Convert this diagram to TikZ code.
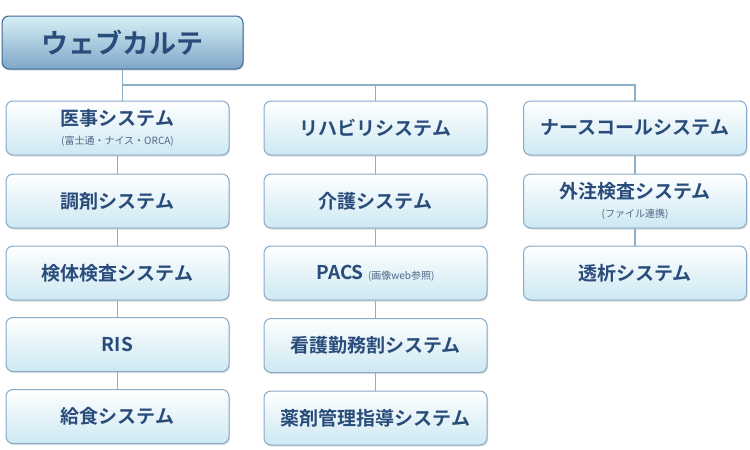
\documentclass[tikz,border=0pt]{standalone}
\usepackage{fontspec}
\setmainfont{Noto Sans CJK JP}[BoldFont={Noto Sans CJK JP Bold}]
\usetikzlibrary{shadows}
\definecolor{txt}{HTML}{294C7A}
\definecolor{subtxt}{HTML}{4F6688}
\definecolor{boxborder}{HTML}{86AAC8}
\definecolor{boxbottom}{HTML}{CDE8F2}
\definecolor{linec}{HTML}{8CAFC8}
\definecolor{roottop}{HTML}{D7F0F5}
\definecolor{rootbottom}{HTML}{7FA6C8}
\definecolor{rootborder}{HTML}{3C6496}
\newcommand{\subtext}[1]{{\fontsize{10pt}{12pt}\selectfont\color{subtxt}\mdseries #1}}
\tikzset{
  sysbox/.style={draw=boxborder, line width=1pt, rounded corners=7pt,
    minimum width=223pt, minimum height=54pt, inner sep=0pt,
    top color=white, bottom color=boxbottom, text=txt, align=center,
    font=\fontsize{19pt}{22pt}\selectfont\bfseries,
    drop shadow={opacity=0.25, shadow xshift=1pt, shadow yshift=-1.5pt}},
  rootbox/.style={draw=rootborder, line width=1pt, rounded corners=7pt,
    minimum width=241pt, minimum height=53pt, inner sep=0pt,
    top color=roottop, bottom color=rootbottom, text=txt,
    font=\fontsize{27pt}{30pt}\selectfont\bfseries,
    drop shadow={opacity=0.25, shadow xshift=1pt, shadow yshift=-1.5pt}},
  conn/.style={draw=linec, line width=1.1pt}
}
\begin{document}
\begin{tikzpicture}[x=1pt,y=-1pt]
\useasboundingbox (0,0) rectangle (750,450);
\node[rootbox] (root) at (122.5,42.5) {ウェブカルテ};
% column 1
\node[sysbox] (a1) at (117.5,128) {医事システム\\[-2.5pt]\subtext{(富士通・ナイス・ORCA)}};
\node[sysbox] (a2) at (117.5,201) {調剤システム};
\node[sysbox] (a3) at (117.5,273) {検体検査システム};
\node[sysbox] (a4) at (117.5,344.5) {RIS};
\node[sysbox] (a5) at (117.5,416.5) {給食システム};
% column 2
\node[sysbox] (b1) at (375.5,128) {リハビリシステム};
\node[sysbox] (b2) at (375.5,201) {介護システム};
\node[sysbox] (b3) at (375.5,273) {PACS \subtext{(画像web参照)}};
\node[sysbox] (b4) at (375.5,345.5) {看護勤務割システム};
\node[sysbox] (b5) at (375.5,418) {薬剤管理指導システム};
% column 3
\node[sysbox] (c1) at (635,128) {ナースコールシステム};
\node[sysbox] (c2) at (635,201) {外注検査システム\\[-2.5pt]\subtext{(ファイル連携)}};
\node[sysbox] (c3) at (635,273) {透析システム};
\coordinate (bus) at (0,85);
% connectors
\draw[conn] (root.south) -- (root.south |- a1.north);
\draw[conn] (root.south |- bus) -- (c1.north |- bus) -- (c1.north);
\draw[conn] (b1.north |- bus) -- (b1.north);
\draw[conn] (a1.south) -- (a2.north);
\draw[conn] (a2.south) -- (a3.north);
\draw[conn] (a3.south) -- (a4.north);
\draw[conn] (a4.south) -- (a5.north);
\draw[conn] (b1.south) -- (b2.north);
\draw[conn] (b2.south) -- (b3.north);
\draw[conn] (b3.south) -- (b4.north);
\draw[conn] (b4.south) -- (b5.north);
\draw[conn] (c1.south) -- (c2.north);
\draw[conn] (c2.south) -- (c3.north);
\end{tikzpicture}
\end{document}
